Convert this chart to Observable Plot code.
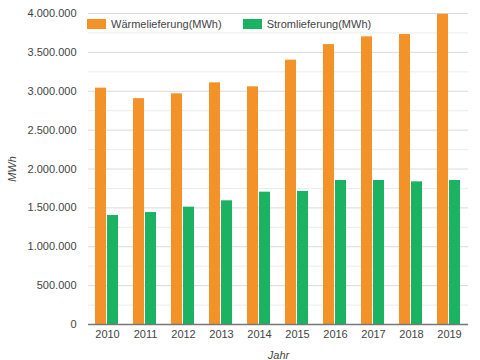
<!DOCTYPE html>
<html>
<head>
<meta charset="utf-8">
<script src="https://cdn.jsdelivr.net/npm/d3@7"></script>
<script src="https://cdn.jsdelivr.net/npm/@observablehq/plot@0.6"></script>
<style>
  body { margin: 0; background: #fff; font-family: "Liberation Sans", Arial, sans-serif; }
  #wrap { position: relative; width: 480px; height: 360px; }
  #legend { position: absolute; left: 87px; top: 18px; display: flex; align-items: center; font-size: 11px; color: #444; }
  #legend .item { display: flex; align-items: center; margin-right: 21px; }
  #legend .sw { width: 19px; height: 10px; margin-right: 5px; }
</style>
</head>
<body>
<div id="wrap"></div>
<script>
const years = ["2010","2011","2012","2013","2014","2015","2016","2017","2018","2019"];
const seriesNames = ["Wärmelieferung(MWh)", "Stromlieferung(MWh)"];
const waerme = [3040000, 2905000, 2967000, 3108000, 3057000, 3400000, 3600000, 3700000, 3730000, 3990000];
const strom  = [1402000, 1440000, 1509000, 1591000, 1702000, 1711000, 1852000, 1852000, 1835000, 1852000];
const colors = ["#f4922a", "#1bb262"];
const yTicks = [0, 500000, 1000000, 1500000, 2000000, 2500000, 3000000, 3500000, 4000000];
const yMinor = [250000, 750000, 1250000, 1750000, 2250000, 2750000, 3250000, 3750000];

const data = [];
years.forEach((y, i) => {
  data.push({year: y, series: seriesNames[0], value: waerme[i]});
  data.push({year: y, series: seriesNames[1], value: strom[i]});
});

const de = d3.formatLocale({decimal: ",", thousands: ".", grouping: [3], currency: ["", "€"]});
const fmt = de.format(",d");

const chart = Plot.plot({
  width: 480,
  height: 360,
  marginLeft: 86,
  marginRight: 11,
  marginTop: 13,
  marginBottom: 36,
  style: {fontFamily: "Liberation Sans, Arial, sans-serif", fontSize: "11px", color: "#444", background: "#fff"},
  fx: {domain: years, padding: 0, label: "Jahr", labelAnchor: "center", labelOffset: 34, tickSize: 0, tickPadding: 6},
  x: {domain: seriesNames, paddingInner: 0.08, paddingOuter: 0.57, axis: null},
  y: {domain: [0, 4000000], ticks: yTicks, tickFormat: fmt, tickSize: 0, tickPadding: 12, label: "MWh", labelArrow: "none", labelAnchor: "center", labelOffset: 80},
  color: {domain: seriesNames, range: colors},
  marks: [
    Plot.gridY(yMinor, {stroke: "#ececec", strokeOpacity: 1}),
    Plot.gridY(yTicks, {stroke: "#dadada", strokeOpacity: 1}),
    Plot.barY(data, {fx: "year", x: "series", y: "value", fill: "series"}),
    Plot.ruleY([0], {stroke: "#777", strokeWidth: 1.5})
  ]
});

// strip any automatic arrow from axis labels and make them italic
chart.querySelectorAll('g[aria-label$="axis label"]').forEach(g => {
  g.setAttribute("font-style", "italic");
  g.style.fontStyle = "italic";
  g.querySelectorAll("text").forEach(t => {
    t.textContent = t.textContent.replace(/[↑↓←→]/g, "").trim();
    t.style.fontStyle = "italic";
  });
});

const wrap = document.getElementById("wrap");
wrap.appendChild(chart);
const legend = document.createElement("div");
legend.id = "legend";
seriesNames.forEach((name, i) => {
  const it = document.createElement("div");
  it.className = "item";
  const sw = document.createElement("div");
  sw.className = "sw";
  sw.style.background = colors[i];
  const t = document.createElement("span");
  t.textContent = name;
  it.appendChild(sw);
  it.appendChild(t);
  legend.appendChild(it);
});
wrap.appendChild(legend);
</script>
</body>
</html>
